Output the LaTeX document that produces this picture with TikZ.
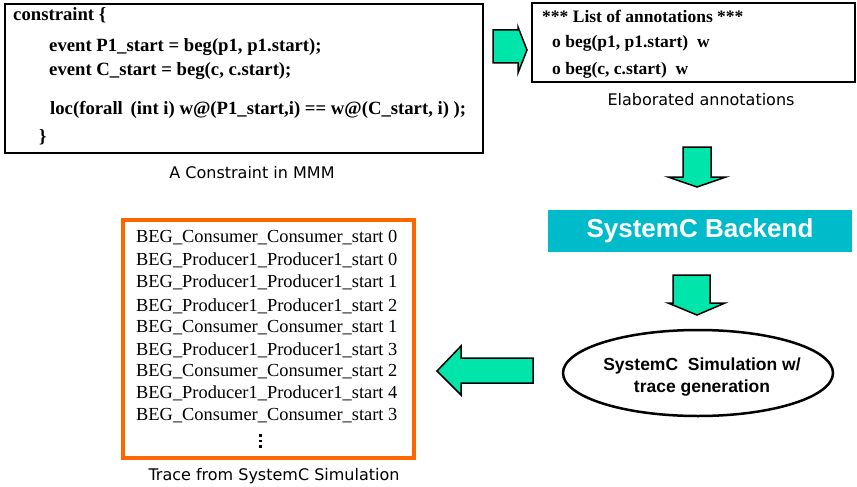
\documentclass[tikz,border=0pt]{standalone}
\usepackage{fontspec}
\setmainfont{Liberation Serif}
\setsansfont{Liberation Sans}
\newfontfamily\capfont{DejaVu Sans}
\usetikzlibrary{shapes, arrows, positioning}
\definecolor{arrowgreen}{RGB}{0,230,170}
\definecolor{backcyan}{RGB}{0,188,202}
\definecolor{traceorange}{RGB}{255,102,0}
\tikzstyle{codebox} = [draw, line width=2pt, inner sep=0pt]
\tikzstyle{code} = [anchor=west, inner sep=0pt, font=\fontsize{18.7}{18.7}\selectfont\bfseries]
\tikzstyle{note} = [anchor=west, inner sep=0pt, font=\fontsize{17.5}{17.5}\selectfont\bfseries]
\tikzstyle{trace} = [anchor=west, inner sep=0pt, font=\fontsize{18.4}{18.4}\selectfont]
\tikzstyle{caption} = [inner sep=0pt, font=\capfont\fontsize{16}{16}\selectfont]
\tikzstyle{bigarrow} = [draw, fill=arrowgreen, line width=1.5pt, line join=miter]

\begin{document}
\begin{tikzpicture}[x=1pt, y=-1pt]
	\useasboundingbox (0,0) rectangle (857,487);

	% constraint in MMM
	\node [codebox, minimum width=478pt, minimum height=149pt] (cons) at (244,78.5) {};
	\node [code] (c1) at (13,15) {constraint \{};
	\node [code] (c2) at (49,47) {event P1\_start = beg(p1, p1.start);};
	\node [code] (c3) at (49,71) {event C\_start = beg(c, c.start);};
	\node [code] (c4) at (50,110) {loc(forall\, (int i) w@(P1\_start,i) == w@(C\_start, i) );};
	\node [code] (c5) at (39,137) {\}};
	\node [caption] (conscap) at (252,173) {A Constraint in MMM};

	% annotations
	\node [codebox, minimum width=323pt, minimum height=79pt] (notes) at (693.5,42.5) {};
	\node [note] (n1) at (542,16) {*** List of annotations ***};
	\node [note] (n2) at (552,43) {o beg(p1, p1.start)\ \ w};
	\node [note] (n3) at (552,70) {o beg(c, c.start)\ \ w};
	\node [caption] (notescap) at (701,100) {Elaborated annotations};

	% backend and simulation
	\node [fill=backcyan, text=white, minimum width=304pt, minimum height=42pt, font=\sffamily\bfseries\fontsize{26}{26}\selectfont] (backend) at (700,231) {SystemC Backend};
	\node [draw, ellipse, line width=2.5pt, minimum width=270pt, minimum height=86pt] (sim) at (698,373) {};
	\node [align=center, inner sep=0pt, font=\sffamily\bfseries\fontsize{17.5}{21.5}\selectfont] (simtext) at (702,377) {SystemC\ \ Simulation w/\\trace generation};

	% trace
	\draw [traceorange, line width=4pt] (123,220) rectangle (414,458);
	\node [trace] (t1) at (136,238) {BEG\_Consumer\_Consumer\_start 0};
	\node [trace] (t2) at (136,260) {BEG\_Producer1\_Producer1\_start 0};
	\node [trace] (t3) at (136,282) {BEG\_Producer1\_Producer1\_start 1};
	\node [trace] (t4) at (136,306) {BEG\_Producer1\_Producer1\_start 2};
	\node [trace] (t5) at (136,328) {BEG\_Consumer\_Consumer\_start 1};
	\node [trace] (t6) at (136,350) {BEG\_Producer1\_Producer1\_start 3};
	\node [trace] (t7) at (136,372) {BEG\_Consumer\_Consumer\_start 2};
	\node [trace] (t8) at (136,393) {BEG\_Producer1\_Producer1\_start 4};
	\node [trace] (t9) at (136,416) {BEG\_Consumer\_Consumer\_start 3};
	\foreach \y in {434,439.5,445}
		\fill (258.5,\y) rectangle +(3,2.5);
	\node [caption] (tracecap) at (274,476) {Trace from SystemC Simulation};

	% block arrows
	\path [bigarrow] (493,30) -- (518,30) -- (518,27) -- (527,50) -- (518,73) -- (518,63) -- (493,63) -- cycle;
	\path [bigarrow] (683,147) -- (711,147) -- (711,177) -- (726,177) -- (697,187) -- (668,177) -- (683,177) -- cycle;
	\path [bigarrow] (673,275) -- (710,275) -- (710,303) -- (725,303) -- (697,315) -- (668,303) -- (673,303) -- cycle;
	\path [bigarrow] (533,358) -- (461,358) -- (461,346) -- (437,371) -- (461,395) -- (461,383) -- (533,383) -- cycle;
\end{tikzpicture}
\end{document}
